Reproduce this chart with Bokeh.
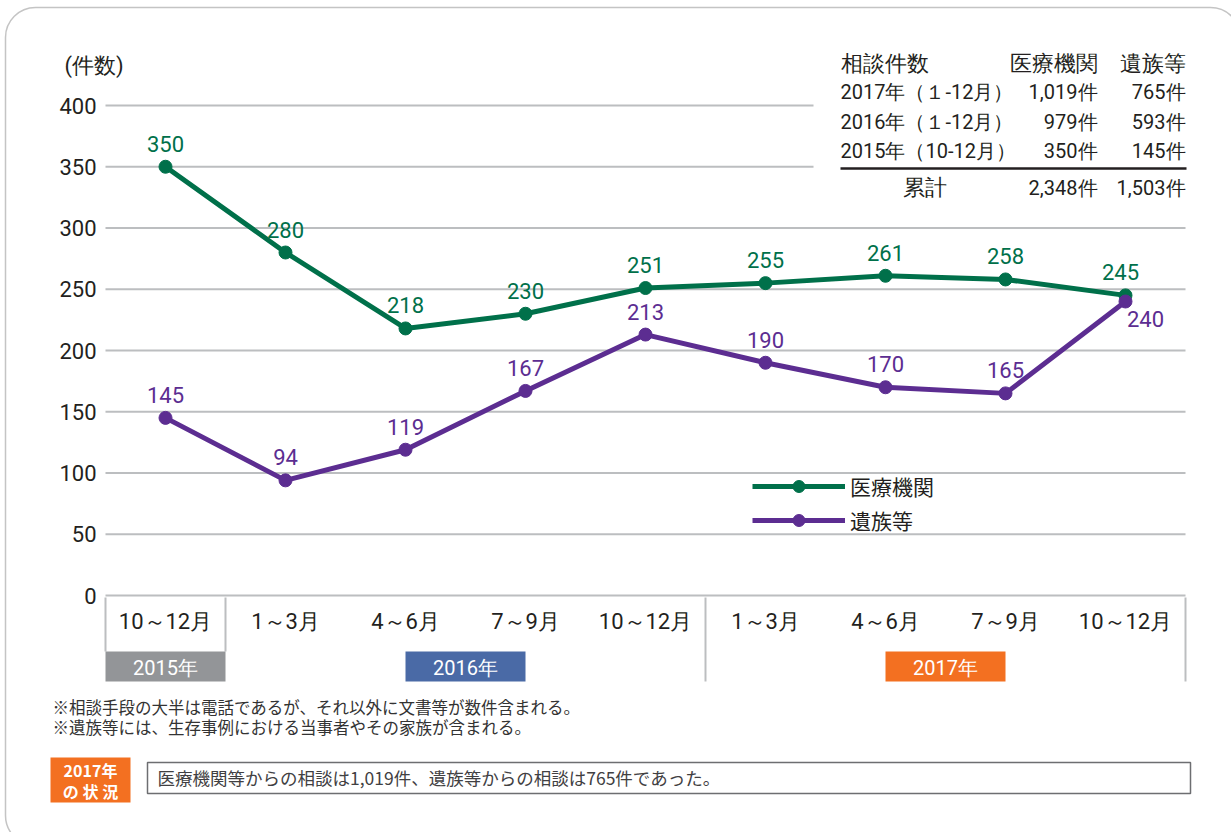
from bokeh.plotting import figure
from bokeh.models import Range1d, ColumnDataSource, Legend, LegendItem, BoxAnnotation
from bokeh.core.properties import value
from bokeh.embed import file_html
from bokeh.resources import INLINE

# ---------------- data ----------------
quarters = ["10～12月", "1～3月", "4～6月", "7～9月", "10～12月", "1～3月", "4～6月", "7～9月", "10～12月"]
quarter_year = ["2015年", "2016年", "2016年", "2016年", "2016年", "2017年", "2017年", "2017年", "2017年"]
years = ["2015年", "2016年", "2017年"]
medical = [350, 280, 218, 230, 251, 255, 261, 258, 245]
family = [145, 94, 119, 167, 213, 190, 170, 165, 240]
y_ticks = [0, 50, 100, 150, 200, 250, 300, 350, 400]
series_names = ["医療機関", "遺族等"]

table_rows = ["2017年（１-12月）", "2016年（１-12月）", "2015年（10-12月）"]
table_medical = [1019, 979, 350]
table_family = [765, 593, 145]
table_header = ["相談件数", "医療機関", "遺族等"]
table_total_label = "累計"

footnotes = ["※相談手段の大半は電話であるが、それ以外に文書等が数件含まれる。",
             "※遺族等には、生存事例における当事者やその家族が含まれる。"]
status_tag = ["2017年", "の 状 況"]
status_text = "医療機関等からの相談は1,019件、遺族等からの相談は765件であった。"
y_title = "(件数)"

# ---------------- style ----------------
GREEN = "#00704A"
PURPLE = "#5C2D91"
GRID = "#BCBEC0"
DARK = "#231F20"
YEAR_COLORS = {"2015年": "#939598", "2016年": "#4A6AA6", "2017年": "#F37021"}
NUM_FONT = "Roboto"
JP_FONT = "Noto Sans CJK JP"

W, H = 1231, 832
# chart geometry (pixels within the figure)
X0_PX, DX_PX = 165, 120          # centre of first category, spacing
Y0_PX, PX_PER_UNIT = 595, 1.225  # y pixel of value 0, pixels per unit

p = figure(width=W, height=H, x_range=Range1d(0, W), y_range=Range1d(H, 0),
           output_backend="svg", toolbar_location=None,
           x_axis_type=None, y_axis_type=None, min_border=0,
           outline_line_color=None, background_fill_color="white",
           border_fill_color="white")
p.extra_x_ranges = {"cat": Range1d(-X0_PX / DX_PX, (W - X0_PX) / DX_PX)}
p.extra_y_ranges = {"val": Range1d(-(H - Y0_PX) / PX_PER_UNIT, Y0_PX / PX_PER_UNIT)}

idx = list(range(len(quarters)))

# outer rounded frame
p.add_layout(BoxAnnotation(left=5, right=1240, top=7, bottom=845, fill_alpha=0,
                           line_color="#3A3A3A", line_width=1.5, border_radius=30))

# grid lines (short ones stop before the table)
grid_x1 = [8.5 if t < 350 else 5.4 for t in y_ticks]
p.segment(x0=[-0.5] * len(y_ticks), y0=y_ticks, x1=grid_x1, y1=y_ticks,
          x_range_name="cat", y_range_name="val", line_color=GRID, line_width=2)

# y tick labels
p.text(x=[96] * len(y_ticks), y=y_ticks, text=[str(t) for t in y_ticks],
       y_range_name="val", text_align="right", text_baseline="middle",
       text_font=value(NUM_FONT), text_font_size=value("22px"), text_color=DARK)
p.text(x=[64], y=[65], text=[y_title], text_align="left", text_baseline="middle",
       text_font=value(NUM_FONT), text_font_size=value("22px"), text_color=DARK)

# category box: boundaries between year groups
groups = []
for i, yv in enumerate(quarter_year):
    if not groups or groups[-1][0] != yv:
        groups.append([yv, i, i])
    else:
        groups[-1][2] = i
bounds = [groups[0][1] - 0.5] + [g[2] + 0.5 for g in groups]
bottoms = [651, 651, 681, 681]
p.segment(x0=bounds, y0=[597] * len(bounds), x1=bounds, y1=bottoms[:len(bounds)],
          x_range_name="cat", line_color=GRID, line_width=2)

# category labels
p.text(x=idx, y=[621] * len(idx), text=quarters, x_range_name="cat",
       text_align="center", text_baseline="middle",
       text_font=value(NUM_FONT), text_font_size=value("22px"), text_color=DARK)

# year boxes
ycent = [(g[1] + g[2]) / 2 for g in groups]
p.rect(x=ycent, y=[666] * len(groups), width=1.0, height=30, x_range_name="cat",
       fill_color=[YEAR_COLORS[g[0]] for g in groups], line_color=None)
p.text(x=ycent, y=[667] * len(groups), text=[g[0] for g in groups], x_range_name="cat",
       text_align="center", text_baseline="middle", text_color="white",
       text_font=value(NUM_FONT), text_font_size=value("20px"))

# series
m_dx = [0] * (len(idx) - 1) + [-5]
m_dy = [-23] * len(idx)
f_dx = [0] * (len(idx) - 1) + [20]
f_dy = [-23] * (len(idx) - 1) + [17]
src_m = ColumnDataSource(dict(x=idx, y=medical, t=[str(v) for v in medical], dx=m_dx, dy=m_dy))
src_f = ColumnDataSource(dict(x=idx, y=family, t=[str(v) for v in family], dx=f_dx, dy=f_dy))
lm = p.line("x", "y", source=src_m, x_range_name="cat", y_range_name="val",
            line_color=GREEN, line_width=5, line_join="round")
cm = p.scatter("x", "y", source=src_m, x_range_name="cat", y_range_name="val",
               size=13, fill_color=GREEN, line_color=GREEN)
lf = p.line("x", "y", source=src_f, x_range_name="cat", y_range_name="val",
            line_color=PURPLE, line_width=5, line_join="round")
cf = p.scatter("x", "y", source=src_f, x_range_name="cat", y_range_name="val",
               size=13, fill_color=PURPLE, line_color=PURPLE)

# value labels
p.text("x", "y", text="t", source=src_m, x_range_name="cat", y_range_name="val",
       x_offset="dx", y_offset="dy", text_align="center", text_baseline="middle",
       text_color=GREEN, text_font=value(NUM_FONT), text_font_size=value("22px"))
p.text("x", "y", text="t", source=src_f, x_range_name="cat", y_range_name="val",
       x_offset="dx", y_offset="dy", text_align="center", text_baseline="middle",
       text_color=PURPLE, text_font=value(NUM_FONT), text_font_size=value("22px"))

# legend
legend = Legend(items=[LegendItem(label=series_names[0], renderers=[lm, cm]),
                       LegendItem(label=series_names[1], renderers=[lf, cf])],
                location=(752, 297), orientation="vertical",
                glyph_width=93, glyph_height=30, label_height=30, spacing=4,
                padding=0, margin=0, label_standoff=5,
                background_fill_alpha=0, border_line_alpha=0,
                label_text_font=JP_FONT, label_text_font_size="21px",
                label_text_color=DARK)
p.add_layout(legend)

# summary table
def fmt(v):
    return f"{v:,}件"

row_y = [91, 121, 150]
TBL = dict(text_baseline="middle", text_font=value(NUM_FONT), text_color=DARK)
p.text(x=[840], y=[63], text=[table_header[0]], text_align="left",
       text_font_size=value("22px"), **TBL)
p.text(x=[1097, 1185], y=[63, 63], text=table_header[1:], text_align="right",
       text_font_size=value("22px"), **TBL)
p.text(x=[840] * 3, y=row_y, text=table_rows, text_align="left",
       text_font_size=value("20px"), **TBL)
p.text(x=[1097] * 3, y=row_y, text=[fmt(v) for v in table_medical], text_align="right",
       text_font_size=value("20px"), **TBL)
p.text(x=[1185] * 3, y=row_y, text=[fmt(v) for v in table_family], text_align="right",
       text_font_size=value("20px"), **TBL)
p.segment(x0=[840], y0=[168], x1=[1186], y1=[168], line_color=DARK, line_width=2.5)
p.text(x=[924], y=[187], text=[table_total_label], text_align="center",
       text_font_size=value("22px"), **TBL)
p.text(x=[1097, 1185], y=[187, 187],
       text=[fmt(sum(table_medical)), fmt(sum(table_family))], text_align="right",
       text_font_size=value("20px"), **TBL)

# footnotes
p.text(x=[52, 52], y=[706, 726], text=footnotes, text_align="left", text_baseline="middle",
       text_font=value(JP_FONT), text_font_size=value("16.5px"), text_color="#333333")

# status box
p.quad(left=[50], right=[130], top=[757], bottom=[802], fill_color="#F37021", line_color=None)
p.text(x=[90, 90], y=[769, 790], text=status_tag, text_align="center", text_baseline="middle",
       text_font=value(JP_FONT), text_font_size=value("16px"), text_font_style="bold",
       text_color="white")
p.quad(left=[147], right=[1190], top=[762], bottom=[793], fill_color="white",
       line_color="#6D6E71", line_width=1.5)
p.text(x=[157], y=[777], text=[status_text], text_align="left", text_baseline="middle",
       text_font=value(JP_FONT), text_font_size=value("17.5px"), text_color="#414042")

open("out.html", "w").write(file_html(p, INLINE))
